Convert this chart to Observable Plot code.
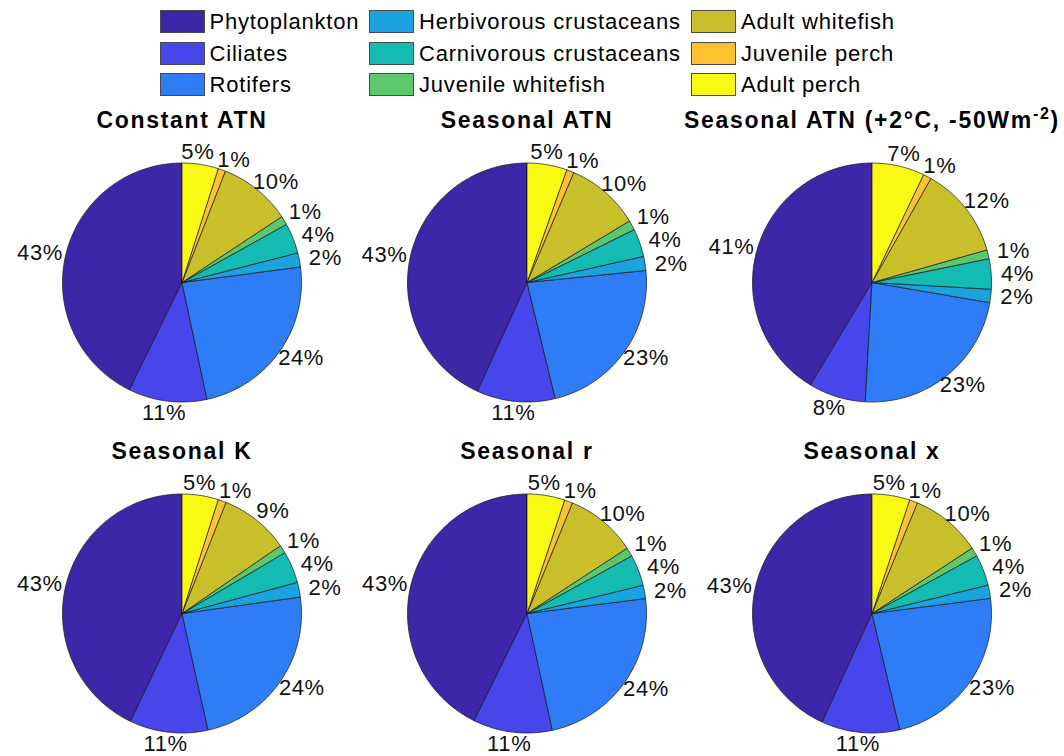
<!DOCTYPE html>
<html>
<head>
<meta charset="utf-8">
<script src="https://cdn.jsdelivr.net/npm/d3@7"></script>
<script src="https://cdn.jsdelivr.net/npm/@observablehq/plot@0.6"></script>
<style>
html, body { margin: 0; padding: 0; background: #fff; overflow: hidden; }
body { width: 1064px; height: 756px; position: relative; font-family: "Liberation Sans", Arial, sans-serif; }
#legend { position: absolute; left: 0; top: 0; width: 1064px; height: 100px; }
.item { position: absolute; height: 23px; display: flex; align-items: center; }
.sw { width: 43px; height: 21px; border: 1px solid #4a4a4a; flex: none; }
.lab { margin-left: 5px; font-size: 22px; letter-spacing: 0.8px; color: #000; white-space: nowrap; line-height: 23px; }
.panel { position: absolute; }
</style>
</head>
<body>
<div id="legend"></div>
<div id="panels"></div>
<script>
// ---- data ----
const species = ["Phytoplankton", "Ciliates", "Rotifers", "Herbivorous crustaceans", "Carnivorous crustaceans",
                 "Juvenile whitefish", "Adult whitefish", "Juvenile perch", "Adult perch"];
const colors = ["#3E26A8", "#4646EA", "#2E7DF6", "#1AA3DF", "#13BBB3", "#5CC86E", "#C9BF2B", "#FCC232", "#F9FA14"];
const scenarios = ["Constant ATN", "Seasonal ATN", "Seasonal ATN (+2°C, -50Wm^-2)", "Seasonal K", "Seasonal r", "Seasonal x"];
// shares (%) in species order
const constantATN   = [42.7, 10.6, 23.7, 1.9, 4.1, 1.2, 9.8, 1.0, 4.9];
const seasonalATN   = [43.2, 10.6, 22.8, 1.9, 3.8, 1.3, 10.0, 1.0, 5.4];
const seasonalWarm  = [41.4, 7.7, 23.2, 1.8, 4.1, 1.2, 12.4, 1.1, 7.1];
const seasonalK     = [42.9, 10.6, 23.7, 2.0, 4.3, 1.1, 9.4, 1.1, 4.9];
const seasonalR     = [42.7, 10.7, 23.6, 1.8, 4.2, 1.2, 9.6, 1.1, 5.1];
const seasonalX     = [43.2, 10.6, 23.3, 1.8, 4.2, 1.2, 9.6, 1.1, 5.1];
const shares = [constantATN, seasonalATN, seasonalWarm, seasonalK, seasonalR, seasonalX];

// ---- legend ----
const legCols = [159.5, 369, 691];
const legRows = [10, 41.5, 72.7];
const legend = d3.select("#legend");
species.forEach((s, i) => {
  const it = legend.append("div").attr("class", "item")
    .style("left", legCols[Math.floor(i / 3)] + "px")
    .style("top", legRows[i % 3] + "px");
  it.append("div").attr("class", "sw").style("background", colors[i]);
  it.append("div").attr("class", "lab").text(s);
});

// ---- pies ----
const R = 119.5, W = 345, H = 331, cx = 172.5, cy = 182, LRX = 1.22, LRY = 1.1;
const panels = d3.select("#panels");

scenarios.forEach((title, p) => {
  const vals = shares[p];
  const total = d3.sum(vals);
  const pts = [], labs = [];
  let cum = 0;
  vals.forEach((v, k) => {
    const f0 = cum / total, f1 = (cum + v) / total;
    cum += v;
    const n = Math.max(2, Math.ceil((f1 - f0) * 240));
    pts.push({species: species[k], x: 0, y: 0});
    for (let j = 0; j <= n; j++) {
      const phi = 2 * Math.PI * (f0 + (f1 - f0) * j / n);
      pts.push({species: species[k], x: -Math.sin(phi), y: Math.cos(phi)});
    }
    pts.push({species: species[k], x: 0, y: 0});
    const label = Math.round(v / total * 100) + "%";
    labs.push({phi: Math.PI * (f0 + f1), label, w: (label.length - 1) * 12.7 + 20});
  });
  // nudge neighbouring labels apart along the ring when their boxes collide
  const px = l => -LRX * R * Math.sin(l.phi), py = l => -LRY * R * Math.cos(l.phi);
  for (let it = 0; it < 600; it++) {
    let moved = false;
    for (let k = 0; k < labs.length - 1; k++) {
      const a = labs[k], b = labs[k + 1];
      if (Math.abs(px(a) - px(b)) < (a.w + b.w) / 2 + 3 && Math.abs(py(a) - py(b)) < 23) {
        a.phi -= 0.003; b.phi += 0.003; moved = true;
      }
    }
    if (!moved) break;
  }
  labs.forEach(l => { l.x = -LRX * Math.sin(l.phi); l.y = LRY * Math.cos(l.phi); });

  const chart = Plot.plot({
    width: W, height: H, margin: 0,
    x: {domain: [-cx / R, (W - cx) / R], axis: null},
    y: {domain: [-(H - cy) / R, cy / R], axis: null},
    color: {domain: species, range: colors},
    style: {overflow: "visible", background: "transparent", fontFamily: "'Liberation Sans', Arial, sans-serif", color: "#000"},
    marks: [
      Plot.line(pts, {x: "x", y: "y", z: "species", fill: "species", stroke: "#161616", strokeWidth: 0.7, strokeLinejoin: "round"}),
      Plot.text(labs, {x: "x", y: "y", text: "label", fontSize: 22, textAnchor: "middle", lineAnchor: "middle", fill: "#111"}),
      Plot.text([title], {text: d => d, frameAnchor: "top", dy: 27.5, lineAnchor: "bottom", fontSize: 23, fontWeight: "bold", fill: "#000"})
    ]
  });
  const svg = d3.select(chart);
  svg.selectAll("text").style("letter-spacing", "0.6px");
  svg.selectAll("g[font-weight='bold'] text").style("letter-spacing", "1.7px").each(function() {
    const t = d3.select(this);
    const s = t.text();
    const m = s.match(/^(.*)\^(-?\d+)(.*)$/);
    if (m) {
      t.text(null);
      t.append("tspan").text(m[1]);
      t.append("tspan").attr("font-size", 16).attr("dy", -9).text(m[2]);
      t.append("tspan").attr("dy", 9).text(m[3]);
    }
  });
  panels.append("div").attr("class", "panel")
    .style("left", (8.5 + (p % 3) * W) + "px")
    .style("top", (100 + Math.floor(p / 3) * H) + "px")
    .node().appendChild(chart);
});
</script>
</body>
</html>
